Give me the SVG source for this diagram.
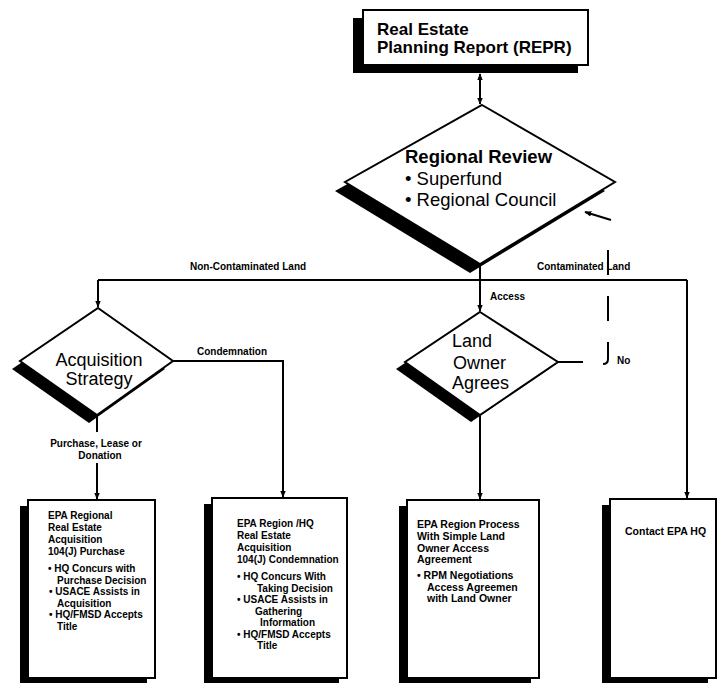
<svg xmlns="http://www.w3.org/2000/svg" width="727" height="683" viewBox="0 0 727 683">
<defs>
<marker id="ah" viewBox="0 0 10 10" refX="9" refY="5" markerWidth="7" markerHeight="7" markerUnits="userSpaceOnUse" orient="auto-start-reverse">
<path d="M0,1 L10,5 L0,9 z" fill="#000"/>
</marker>
</defs>
<style>
text{font-family:"Liberation Sans",Arial,sans-serif;fill:#000}
.b{font-weight:bold}
.t{font-size:17px;font-weight:bold}
.d{font-size:18.5px}
.s{font-size:10px;font-weight:bold}
.bx{font-size:10px;font-weight:bold}
.shape{fill:#fff;stroke:#000;stroke-width:2}
.shadow{fill:#000}
.ln{fill:none;stroke:#000;stroke-width:2}
</style>
<rect width="727" height="683" fill="#fff"/>

<g id="connectors">
<path class="ln" d="M480,74 V104" marker-start="url(#ah)" marker-end="url(#ah)"/>
<path class="ln" d="M480,266 V311" marker-end="url(#ah)"/>
<path class="ln" d="M98,280 H687" stroke-width="2.5"/>
<path class="ln" d="M98,280 V307" marker-end="url(#ah)"/>
<path class="ln" d="M687,280 V498" marker-end="url(#ah)"/>
<path class="ln" d="M97,416 V432"/>
<path class="ln" d="M97,463 V499" marker-end="url(#ah)"/>
<path class="ln" d="M173,361 H283 V497" marker-end="url(#ah)"/>
<path class="ln" d="M480,416 V499" marker-end="url(#ah)"/>
<path class="ln" d="M558,362 H583"/>
<path class="ln" d="M603,364 Q608,364 608,359 V243" stroke-dasharray="25 21"/>
<path class="ln" d="M611,220 L585,212" marker-end="url(#ah)"/>
</g>

<g id="label-noncontaminated"><text class="s" x="190" y="270">Non-Contaminated Land</text></g>
<g id="label-contaminated"><text class="s" x="537" y="270">Contaminated Land</text></g>
<g id="label-access"><text class="s" x="490" y="300">Access</text></g>
<g id="label-condemnation"><text class="s" x="197" y="355">Condemnation</text></g>
<g id="label-purchase"><text class="s" x="96" y="447" text-anchor="middle">Purchase, Lease or</text><text class="s" x="100" y="459" text-anchor="middle">Donation</text></g>
<g id="label-no"><text class="s" x="617" y="364">No</text></g>

<g id="repr">
<rect class="shadow" x="353" y="18" width="225" height="55"/>
<rect class="shape" x="363" y="10" width="225" height="55"/>
<text class="t" x="377" y="35">Real Estate</text>
<text class="t" x="377" y="53">Planning Report (REPR)</text>
</g>

<g id="regional-review">
<polygon class="shadow" points="472,114 605,191 470,273 335,191"/>
<polygon class="shape" points="482,105 615,182 480,264 345,182"/>
<text class="d b" x="405" y="163">Regional Review</text>
<text class="d" x="405" y="185">• Superfund</text>
<text class="d" x="405" y="206">• Regional Council</text>
</g>

<g id="acquisition-strategy">
<polygon class="shadow" points="90,316 165,369 89,423 12,369"/>
<polygon class="shape" points="98,308 173,361 97,415 20,361"/>
<text class="d" x="99" y="366" text-anchor="middle" style="font-size:18px">Acquisition</text>
<text class="d" x="99" y="385" text-anchor="middle" style="font-size:18px">Strategy</text>
</g>

<g id="land-owner-agrees">
<polygon class="shadow" points="471,319 549,369 471,422 396,369"/>
<polygon class="shape" points="480,312 558,362 480,415 405,362"/>
<text class="d" x="452" y="347" style="font-size:18px">Land</text>
<text class="d" x="453" y="369" style="font-size:18px">Owner</text>
<text class="d" x="452" y="389" style="font-size:18px">Agrees</text>
</g>

<g id="box-purchase">
<rect class="shadow" x="20" y="506" width="127" height="178"/>
<rect class="shape" x="28" y="500" width="127" height="178" stroke-width="1.5"/>
<text class="bx" x="48" y="519">EPA Regional</text>
<text class="bx" x="48" y="531">Real Estate</text>
<text class="bx" x="48" y="543">Acquisition</text>
<text class="bx" x="48" y="555">104(J) Purchase</text>
<text class="bx" x="48" y="572">• HQ Concurs with</text>
<text class="bx" x="57" y="583.5">Purchase Decision</text>
<text class="bx" x="49" y="595">• USACE Assists in</text>
<text class="bx" x="57" y="606.5">Acquisition</text>
<text class="bx" x="49" y="618">• HQ/FMSD Accepts</text>
<text class="bx" x="57" y="629.5">Title</text>
</g>

<g id="box-condemnation">
<rect class="shadow" x="204" y="504" width="135" height="180"/>
<rect class="shape" x="212" y="498" width="135" height="180" stroke-width="1.5"/>
<text class="bx" x="237" y="527">EPA Region /HQ</text>
<text class="bx" x="237" y="539">Real Estate</text>
<text class="bx" x="237" y="551">Acquisition</text>
<text class="bx" x="237" y="563">104(J) Condemnation</text>
<text class="bx" x="237" y="580">• HQ Concurs With</text>
<text class="bx" x="257" y="591.5">Taking Decision</text>
<text class="bx" x="237" y="603">• USACE Assists in</text>
<text class="bx" x="255" y="614.5">Gathering</text>
<text class="bx" x="260" y="626">Information</text>
<text class="bx" x="237" y="637.5">• HQ/FMSD Accepts</text>
<text class="bx" x="257" y="649">Title</text>
</g>

<g id="box-access">
<rect class="shadow" x="399" y="506" width="132" height="178"/>
<rect class="shape" x="407" y="500" width="132" height="178" stroke-width="1.5"/>
<text class="bx" x="417" y="528" style="font-size:10.5px">EPA Region Process</text>
<text class="bx" x="417" y="540" style="font-size:10.5px">With Simple Land</text>
<text class="bx" x="417" y="551.5" style="font-size:10.5px">Owner Access</text>
<text class="bx" x="417" y="563" style="font-size:10.5px">Agreement</text>
<text class="bx" x="417" y="579" style="font-size:10.5px">• RPM Negotiations</text>
<text class="bx" x="427" y="590.5" style="font-size:10.5px">Access Agreemen</text>
<text class="bx" x="427" y="602" style="font-size:10.5px">with Land Owner</text>
</g>

<g id="box-contact">
<rect class="shadow" x="602" y="505" width="106" height="179"/>
<rect class="shape" x="610" y="499" width="106" height="179" stroke-width="1.5"/>
<text class="bx" x="625" y="535" style="font-size:10.5px">Contact EPA HQ</text>
</g>
</svg>
